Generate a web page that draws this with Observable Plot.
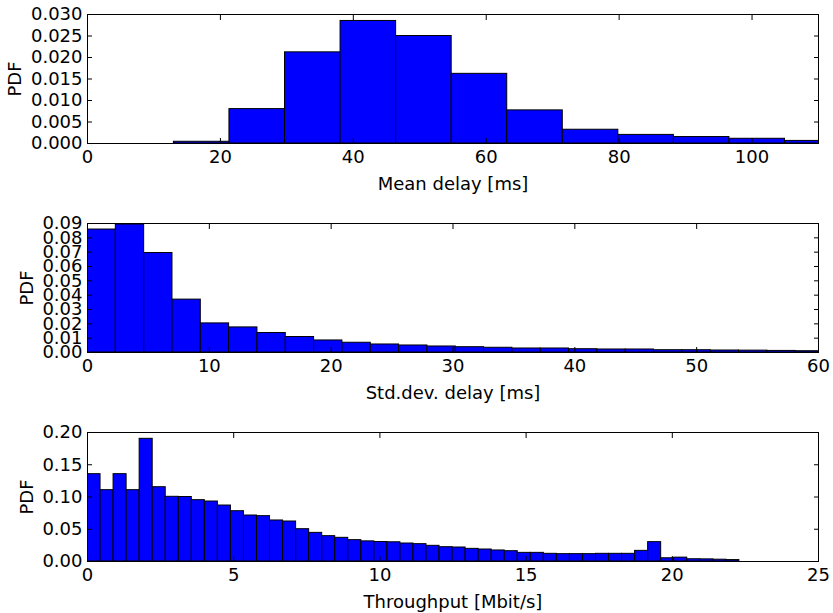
<!DOCTYPE html>
<html><head><meta charset="utf-8">
<script src="https://cdn.jsdelivr.net/npm/d3@7"></script>
<script src="https://cdn.jsdelivr.net/npm/@observablehq/plot@0.6"></script>
<style>body{margin:0;background:#fff;} svg{display:block}</style>
</head><body><div id="chart"></div>
<script>
// Panel 1: Mean delay
const meanDelayBinStart = 13.0;
const meanDelayBinWidth = 8.36;
const meanDelayPdf = [0.0004, 0.0080, 0.0212, 0.0285, 0.0250, 0.0162, 0.0077, 0.0032, 0.0020, 0.0015, 0.0011, 0.0006];
const meanDelayXTicks = [0, 20, 40, 60, 80, 100];
const meanDelayYTicks = [0, 0.005, 0.010, 0.015, 0.020, 0.025, 0.030];

// Panel 2: Std.dev. delay
const stdDelayBinStart = 0;
const stdDelayBinWidth = 2.325;
const stdDelayPdf = [0.0858, 0.0893, 0.0694, 0.0369, 0.0203, 0.0175, 0.0136, 0.0108, 0.0084, 0.0068,
  0.0056, 0.0049, 0.0042, 0.0037, 0.0033, 0.0028, 0.0028, 0.0023, 0.0021, 0.0021,
  0.0016, 0.0016, 0.0014, 0.0013, 0.0011, 0.0009];
const stdDelayXTicks = [0, 10, 20, 30, 40, 50, 60];
const stdDelayYTicks = [0, 0.01, 0.02, 0.03, 0.04, 0.05, 0.06, 0.07, 0.08, 0.09];

// Panel 3: Throughput
const throughputBinStart = 0;
const throughputBinWidth = 0.4459;
const throughputPdf = [0.1354, 0.1106, 0.1354, 0.1106, 0.1902, 0.1152, 0.1003, 0.1000, 0.0951, 0.0930,
  0.0868, 0.0780, 0.0713, 0.0703, 0.0636, 0.0620, 0.0501, 0.0444, 0.0393, 0.0367,
  0.0331, 0.0312, 0.0302, 0.0298, 0.0279, 0.0269, 0.0243, 0.0222, 0.0217, 0.0196,
  0.0186, 0.0171, 0.0160, 0.0134, 0.0134, 0.0119, 0.0114, 0.0114, 0.0114, 0.0119,
  0.0119, 0.0119, 0.0165, 0.0300, 0.0050, 0.0060, 0.0035, 0.0033, 0.0028, 0.0022];
const throughputXTicks = [0, 5, 10, 15, 20, 25];
const throughputYTicks = [0, 0.05, 0.10, 0.15, 0.20];

function bins(start, width, values) {
  return values.map((v, i) => ({x1: start + i * width, x2: start + (i + 1) * width, y: v}));
}

function panel({data, xDomain, yDomain, xTicks, yTicks, yFormat, xLabel, height, marginBottom, yLabelOffset}) {
  return Plot.plot({
    width: 833,
    height,
    marginLeft: 87,
    marginRight: 15,
    marginTop: 14,
    marginBottom,
    style: {fontFamily: "DejaVu Sans", fontSize: "18px", background: "white", overflow: "visible"},
    x: {domain: xDomain},
    y: {domain: yDomain},
    marks: [
      Plot.rect(data, {x1: "x1", x2: "x2", y1: 0, y2: "y", fill: "#0000ff", stroke: "black", strokeWidth: 1, clip: true}),
      Plot.frame({stroke: "black", strokeWidth: 1}),
      Plot.axisX(xTicks, {anchor: "bottom", tickSize: -5, tickPadding: 12, label: xLabel, labelAnchor: "center", labelOffset: 46, labelArrow: "none", stroke: "black", fill: "black"}),
      Plot.axisX(xTicks, {anchor: "top", tickSize: -5, tickFormat: () => "", label: null, stroke: "black"}),
      Plot.axisY(yTicks, {anchor: "left", tickSize: -5, tickPadding: 10, tickFormat: d3.format(yFormat), label: "PDF", labelAnchor: "center", labelOffset: yLabelOffset, labelArrow: "none", stroke: "black", fill: "black"}),
      Plot.axisY(yTicks, {anchor: "right", tickSize: -5, tickFormat: () => "", label: null, stroke: "black"})
    ]
  });
}

const chart = document.getElementById("chart");
chart.append(panel({
  data: bins(meanDelayBinStart, meanDelayBinWidth, meanDelayPdf),
  xDomain: [0, 110], yDomain: [0, 0.03], xTicks: meanDelayXTicks, yTicks: meanDelayYTicks,
  yFormat: ".3f", xLabel: "Mean delay [ms]", height: 209, marginBottom: 66, yLabelOffset: 79
}));
chart.append(panel({
  data: bins(stdDelayBinStart, stdDelayBinWidth, stdDelayPdf),
  xDomain: [0, 60], yDomain: [0, 0.09], xTicks: stdDelayXTicks, yTicks: stdDelayYTicks,
  yFormat: ".2f", xLabel: "Std.dev. delay [ms]", height: 209, marginBottom: 66, yLabelOffset: 67
}));
chart.append(panel({
  data: bins(throughputBinStart, throughputBinWidth, throughputPdf),
  xDomain: [0, 25], yDomain: [0, 0.20], xTicks: throughputXTicks, yTicks: throughputYTicks,
  yFormat: ".2f", xLabel: "Throughput [Mbit/s]", height: 195, marginBottom: 52, yLabelOffset: 67
}));
</script>
</body></html>
